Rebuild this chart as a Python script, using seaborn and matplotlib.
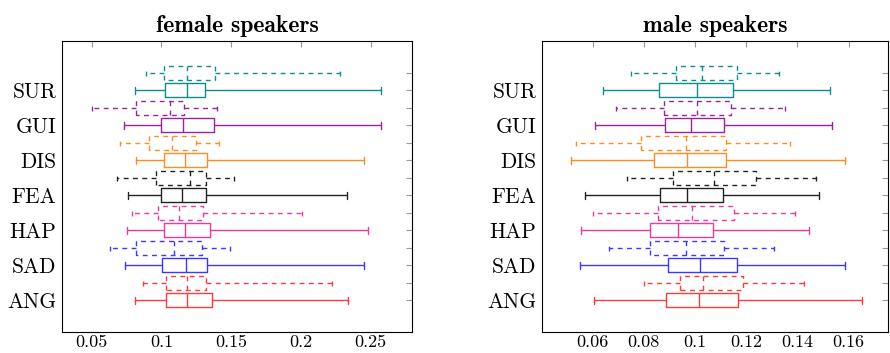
import numpy as np
import pandas as pd
import matplotlib
matplotlib.use("Agg")
import matplotlib.pyplot as plt
from matplotlib.ticker import FixedLocator
import seaborn as sns

# emotion classes, top to bottom
emotions = ["SUR", "GUI", "DIS", "FEA", "HAP", "SAD", "ANG"]
colors = ["#0f8c8c", "#9a229a", "#ff8c1f", "#222222", "#ea3c9e", "#3a3aff", "#ff3a3a"]

# five-number summaries per emotion: [low whisker, q1, median, q3, high whisker]
female_solid = [
    [0.0812, 0.1026, 0.1186, 0.1316, 0.2573],
    [0.0731, 0.0997, 0.1157, 0.1374, 0.2578],
    [0.0816, 0.1016, 0.1171, 0.1324, 0.2455],
    [0.0762, 0.1000, 0.1150, 0.1321, 0.2328],
    [0.0757, 0.1016, 0.1169, 0.1350, 0.2479],
    [0.0738, 0.1005, 0.1179, 0.1329, 0.2455],
    [0.0809, 0.1033, 0.1186, 0.1364, 0.2340],
]
female_dashed = [
    [0.0893, 0.1016, 0.1183, 0.1383, 0.2280],
    [0.0500, 0.0816, 0.1064, 0.1166, 0.1397],
    [0.0707, 0.0914, 0.1079, 0.1245, 0.1412],
    [0.0679, 0.0964, 0.1202, 0.1321, 0.1519],
    [0.0793, 0.0979, 0.1124, 0.1302, 0.2009],
    [0.0631, 0.0819, 0.1088, 0.1293, 0.1495],
    [0.0869, 0.1033, 0.1186, 0.1321, 0.2221],
]
male_solid = [
    [0.0639, 0.0861, 0.1008, 0.1148, 0.1529],
    [0.0609, 0.0883, 0.0986, 0.1113, 0.1535],
    [0.0517, 0.0840, 0.0970, 0.1121, 0.1588],
    [0.0569, 0.0865, 0.0970, 0.1109, 0.1483],
    [0.0556, 0.0823, 0.0934, 0.1070, 0.1447],
    [0.0549, 0.0896, 0.1019, 0.1165, 0.1586],
    [0.0604, 0.0885, 0.1015, 0.1167, 0.1654],
]
male_dashed = [
    [0.0748, 0.0925, 0.1027, 0.1164, 0.1329],
    [0.0690, 0.0879, 0.1008, 0.1142, 0.1351],
    [0.0534, 0.0787, 0.0965, 0.1120, 0.1372],
    [0.0736, 0.0914, 0.1073, 0.1239, 0.1473],
    [0.0601, 0.0855, 0.0988, 0.1152, 0.1392],
    [0.0662, 0.0825, 0.0966, 0.1112, 0.1310],
    [0.0801, 0.0940, 0.1031, 0.1187, 0.1427],
]

female_ticks = [0.05, 0.1, 0.15, 0.2, 0.25]
female_tick_labels = ["0.05", "0.1", "0.15", "0.2", "0.25"]
male_ticks = [0.06, 0.08, 0.1, 0.12, 0.14, 0.16]
male_tick_labels = ["0.06", "0.08", "0.1", "0.12", "0.14", "0.16"]


def to_long(stats, offset):
    # the five summary values reproduce the same quartiles when whiskers span 0-100%
    rows = []
    n = len(emotions)
    for i, (emo, s) in enumerate(zip(emotions, stats)):
        pos = 2 * (n - 1 - i) + offset
        for v in s:
            rows.append({"value": v, "pos": pos, "emotion": emo})
    return pd.DataFrame(rows)


def draw_panel(ax, solid, dashed, title, xlim, ticks, tick_labels):
    palette = dict(zip(emotions, colors))
    for stats, offset, ls in [(solid, 0, "-"), (dashed, 1, (0, (3.5, 3.2)))]:
        df = to_long(stats, offset)
        line = {"linestyle": ls, "linewidth": 1.0}
        sns.boxplot(data=df, x="value", y="pos", hue="emotion", palette=palette,
                    orient="h", native_scale=True, fill=False, whis=(0, 100),
                    width=0.4, linewidth=1.0, legend=False, ax=ax,
                    boxprops=line, whiskerprops=line, capprops=line,
                    medianprops=line)

    n = len(emotions)
    positions = list(range(2 * n))
    labels = []
    for p in positions:
        labels.append(emotions[n - 1 - p // 2] if p % 2 == 0 else "")
    ax.yaxis.set_major_locator(FixedLocator(positions))
    ax.set_yticklabels(labels)
    ax.set_ylim(-1.8, 2 * n + 0.8)

    ax.set_xlim(*xlim)
    ax.xaxis.set_major_locator(FixedLocator(ticks))
    ax.set_xticklabels(tick_labels)

    ax.set_xlabel("")
    ax.set_ylabel("")
    ax.tick_params(axis="both", direction="in", length=4.5, width=0.8,
                   color="#999999", labelcolor="black", top=True, right=True)
    ax.tick_params(axis="x", labelsize=13, pad=2)
    ax.tick_params(axis="y", labelsize=15.5, pad=4)
    for sp in ax.spines.values():
        sp.set_color("black")
        sp.set_linewidth(0.8)
    ax.set_title(title, fontfamily="cmb10", fontsize=17, pad=6.5, color="black")


sns.set_style("white")
plt.rcParams["font.family"] = ["cmr10", "DejaVu Serif"]
plt.rcParams["axes.formatter.use_mathtext"] = True

fig = plt.figure(figsize=(8.9, 3.53), dpi=100)
ax1 = fig.add_axes([0.0697, 0.0595, 0.3932, 0.8244])
ax2 = fig.add_axes([0.609, 0.0595, 0.389, 0.8244])

draw_panel(ax1, female_solid, female_dashed, "female speakers",
           (0.0288, 0.2797), female_ticks, female_tick_labels)
draw_panel(ax2, male_solid, male_dashed, "male speakers",
           (0.0402, 0.1755), male_ticks, male_tick_labels)

fig.savefig("out.png", dpi=100)
